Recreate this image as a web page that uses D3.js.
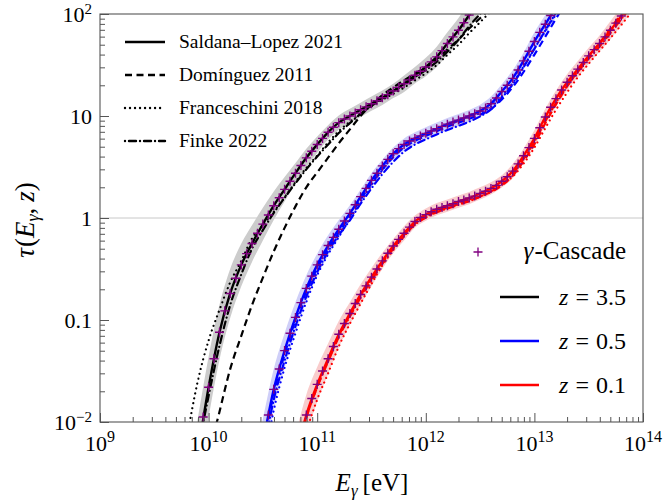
<!DOCTYPE html>
<html>
<head>
<meta charset="utf-8">
<script src="https://cdn.jsdelivr.net/npm/d3@7"></script>
<style>
  body { margin: 0; background: #fff; }
  text { font-family: "Liberation Serif", "Times New Roman", serif; fill: #000; }
</style>
</head>
<body>
<div id="chart"></div>
<script>
const width = 666,
    height = 504,
    margin = { left: 100, right: 23, top: 14, bottom: 82 };

// energy grids (eV) for the EBL model curves
const e35 = [6.31e9, 7.94e9, 1e10, 1.26e10, 1.58e10, 2e10, 2.51e10, 3.16e10, 3.98e10, 5.01e10, 6.31e10, 7.94e10, 1e11, 1.26e11, 1.58e11, 2e11, 2.51e11, 3.16e11, 3.98e11, 5.01e11, 6.31e11, 7.94e11, 1e12, 1.26e12, 1.58e12, 2e12, 2.51e12, 3.16e12, 3.98e12];
const e05 = [2.51e10, 3.16e10, 3.98e10, 5.01e10, 6.31e10, 7.94e10, 1e11, 1.26e11, 1.58e11, 2e11, 2.51e11, 3.16e11, 3.98e11, 5.01e11, 6.31e11, 7.94e11, 1e12, 1.26e12, 1.58e12, 2e12, 2.51e12, 3.16e12, 3.98e12, 5.01e12, 6.31e12, 7.94e12, 1e13, 1.26e13, 1.58e13, 2e13];
const e01 = [6.31e10, 7.94e10, 1e11, 1.26e11, 1.58e11, 2e11, 2.51e11, 3.16e11, 3.98e11, 5.01e11, 6.31e11, 7.94e11, 1e12, 1.26e12, 1.58e12, 2e12, 2.51e12, 3.16e12, 3.98e12, 5.01e12, 6.31e12, 7.94e12, 1e13, 1.26e13, 1.58e13, 2e13, 2.51e13, 3.16e13, 3.98e13, 5.01e13, 6.31e13, 7.94e13];

// optical depth, z = 3.5
const saldana35 = [0.0012, 0.005, 0.0219, 0.0759, 0.182, 0.347, 0.562, 0.871, 1.32, 1.91, 2.75, 3.89, 5.25, 6.92, 8.61, 10, 11.5, 13.2, 15.1, 17.6, 20.7, 25.1, 30.2, 38, 51.3, 69.2, 97.7, 141, 200];
const dominguez35 = [0.0002, 0.0008, 0.0045, 0.0126, 0.033, 0.07, 0.14, 0.26, 0.47, 0.8, 1.3, 2.0, 2.8, 3.9, 5.4, 7.4, 10, 12.9, 16, 19, 22.4, 26, 30, 36, 45, 56, 72, 91, 115];
const franceschini35 = [0.007, 0.025, 0.063, 0.126, 0.234, 0.38, 0.63, 0.85, 1.15, 1.6, 2.25, 3.1, 4.1, 5.5, 7.1, 8.8, 10.6, 12.5, 14.4, 16.5, 19, 22.4, 26.3, 31.6, 39.8, 50, 65, 83, 107];
const finke35 = [0.001, 0.005, 0.018, 0.056, 0.14, 0.28, 0.5, 0.76, 1.12, 1.58, 2.19, 3.0, 4.0, 5.25, 6.8, 8.5, 10.5, 12.6, 14.8, 17.4, 20.4, 24, 28.2, 34, 42.7, 56, 76, 100, 132];
const band35 = [0.35, 0.33, 0.3, 0.27, 0.24, 0.21, 0.18, 0.16, 0.14, 0.12, 0.1, 0.09, 0.08, 0.07, 0.07, 0.07, 0.07, 0.07, 0.07, 0.07, 0.08, 0.08, 0.09, 0.1, 0.11, 0.12, 0.13, 0.14, 0.15];

// optical depth, z = 0.5
const saldana05 = [0.002, 0.0063, 0.0209, 0.0501, 0.106, 0.204, 0.347, 0.537, 0.776, 1.11, 1.62, 2.34, 3.24, 4.27, 5.25, 6.03, 6.76, 7.5, 8.32, 9.12, 10, 11.2, 13.2, 17.4, 23.4, 34.7, 53.7, 79.4, 117, 178];
const dominguez05 = [0.0018, 0.0055, 0.019, 0.046, 0.1, 0.19, 0.32, 0.5, 0.72, 1.04, 1.52, 2.17, 3.0, 3.95, 4.9, 5.7, 6.4, 7.1, 7.85, 8.6, 9.4, 10.3, 11.7, 14.5, 19.2, 27, 40, 60, 90, 135];
const franceschini05 = [0.0011, 0.0035, 0.013, 0.034, 0.074, 0.15, 0.275, 0.44, 0.65, 0.99, 1.45, 2.11, 2.95, 4.07, 5.1, 5.9, 6.6, 7.3, 8.1, 8.9, 9.7, 10.7, 12.3, 15.6, 21, 30.5, 46, 68, 100, 150];
const finke05 = [0.0015, 0.0048, 0.0166, 0.04, 0.087, 0.17, 0.295, 0.47, 0.68, 0.95, 1.38, 1.95, 2.69, 3.55, 4.47, 5.25, 5.9, 6.6, 7.3, 8.0, 8.8, 9.9, 11.6, 15, 20.5, 30, 45.5, 69, 103, 155];
const band05 = [0.25, 0.23, 0.2, 0.17, 0.15, 0.13, 0.11, 0.1, 0.09, 0.08, 0.07, 0.07, 0.06, 0.06, 0.06, 0.06, 0.06, 0.06, 0.06, 0.06, 0.06, 0.06, 0.07, 0.07, 0.08, 0.08, 0.09, 0.09, 0.1, 0.1];

// optical depth, z = 0.1
const saldana01 = [0.0045, 0.0117, 0.0234, 0.0417, 0.0724, 0.116, 0.178, 0.263, 0.38, 0.531, 0.708, 0.923, 1.08, 1.22, 1.32, 1.45, 1.57, 1.74, 1.95, 2.29, 2.88, 4.07, 6.03, 9.77, 14.8, 21.4, 28.8, 38.9, 51.3, 69.2, 95.5, 132];
const dominguez01 = [0.004, 0.011, 0.022, 0.04, 0.07, 0.112, 0.172, 0.255, 0.37, 0.51, 0.68, 0.88, 1.03, 1.16, 1.26, 1.37, 1.48, 1.62, 1.8, 2.08, 2.6, 3.6, 5.3, 8.5, 13, 19.5, 27.5, 38, 52, 72, 100, 138];
const franceschini01 = [0.0025, 0.0078, 0.0166, 0.03, 0.055, 0.092, 0.145, 0.226, 0.343, 0.484, 0.66, 0.88, 1.05, 1.19, 1.3, 1.41, 1.51, 1.66, 1.85, 2.12, 2.55, 3.4, 4.9, 7.6, 11.5, 17, 24, 32.5, 43.5, 58, 78, 106];
const finke01 = [0.0042, 0.011, 0.022, 0.039, 0.068, 0.108, 0.166, 0.245, 0.355, 0.5, 0.67, 0.86, 1.01, 1.14, 1.24, 1.35, 1.46, 1.62, 1.82, 2.12, 2.7, 3.8, 5.6, 8.9, 13.5, 19.8, 27, 36.5, 48, 65, 89, 122];
const band01 = [0.22, 0.2, 0.17, 0.15, 0.13, 0.11, 0.1, 0.09, 0.08, 0.07, 0.07, 0.06, 0.06, 0.06, 0.06, 0.06, 0.06, 0.06, 0.06, 0.06, 0.07, 0.07, 0.08, 0.08, 0.08, 0.08, 0.08, 0.08, 0.08, 0.09, 0.09, 0.09];

// gamma-Cascade points
const casE35 = [8.91e9, 1e10, 1.12e10, 1.26e10, 1.41e10, 1.58e10, 1.78e10, 2e10, 2.24e10, 2.51e10, 2.82e10, 3.16e10, 3.55e10, 3.98e10, 4.47e10, 5.01e10, 5.62e10, 6.31e10, 7.08e10, 7.94e10, 8.91e10, 1e11, 1.12e11, 1.26e11, 1.41e11, 1.58e11, 1.78e11, 2e11, 2.24e11, 2.51e11, 2.82e11, 3.16e11, 3.55e11, 3.98e11, 4.47e11, 5.01e11, 5.62e11, 6.31e11, 7.08e11, 7.94e11, 8.91e11, 1e12, 1.12e12, 1.26e12, 1.41e12, 1.58e12, 1.78e12, 2e12, 2.24e12, 2.51e12];
const casT35 = [0.0112, 0.0219, 0.0417, 0.0759, 0.123, 0.182, 0.257, 0.347, 0.447, 0.562, 0.708, 0.871, 1.07, 1.32, 1.58, 1.91, 2.29, 2.75, 3.27, 3.89, 4.52, 5.25, 6.03, 6.92, 7.76, 8.61, 9.33, 10, 10.7, 11.5, 12.3, 13.2, 14.1, 15.1, 16.2, 17.6, 19.1, 20.7, 22.6, 25.1, 27.5, 30.2, 33.9, 38, 43.7, 51.3, 59.6, 69.2, 82.2, 97.7];
const casE05 = [3.55e10, 3.98e10, 4.47e10, 5.01e10, 5.62e10, 6.31e10, 7.08e10, 7.94e10, 8.91e10, 1e11, 1.12e11, 1.26e11, 1.41e11, 1.58e11, 1.78e11, 2e11, 2.24e11, 2.51e11, 2.82e11, 3.16e11, 3.55e11, 3.98e11, 4.47e11, 5.01e11, 5.62e11, 6.31e11, 7.08e11, 7.94e11, 8.91e11, 1e12, 1.12e12, 1.26e12, 1.41e12, 1.58e12, 1.78e12, 2e12, 2.24e12, 2.51e12, 2.82e12, 3.16e12, 3.55e12, 3.98e12, 4.47e12, 5.01e12, 5.62e12, 6.31e12, 7.08e12, 7.94e12, 8.91e12, 1e13, 1.12e13, 1.26e13, 1.41e13];
const casT05 = [0.0117, 0.0209, 0.0331, 0.0501, 0.0741, 0.106, 0.148, 0.204, 0.269, 0.347, 0.437, 0.537, 0.646, 0.776, 0.933, 1.11, 1.35, 1.62, 1.95, 2.34, 2.75, 3.24, 3.76, 4.27, 4.79, 5.25, 5.69, 6.03, 6.38, 6.76, 7.13, 7.5, 7.91, 8.32, 8.71, 9.12, 9.55, 10, 10.5, 11.2, 12, 13.2, 15, 17.4, 20, 23.4, 28.2, 34.7, 43.2, 53.7, 66.1, 79.4, 96.6];
const casE01 = [7.94e10, 8.91e10, 1e11, 1.12e11, 1.26e11, 1.41e11, 1.58e11, 1.78e11, 2e11, 2.24e11, 2.51e11, 2.82e11, 3.16e11, 3.55e11, 3.98e11, 4.47e11, 5.01e11, 5.62e11, 6.31e11, 7.08e11, 7.94e11, 8.91e11, 1e12, 1.12e12, 1.26e12, 1.41e12, 1.58e12, 1.78e12, 2e12, 2.24e12, 2.51e12, 2.82e12, 3.16e12, 3.55e12, 3.98e12, 4.47e12, 5.01e12, 5.62e12, 6.31e12, 7.08e12, 7.94e12, 8.91e12, 1e13, 1.12e13, 1.26e13, 1.41e13, 1.58e13, 1.78e13, 2e13, 2.24e13, 2.51e13, 2.82e13, 3.16e13, 3.55e13, 3.98e13, 4.47e13, 5.01e13, 5.62e13, 6.31e13];
const casT01 = [0.0117, 0.017, 0.0234, 0.0316, 0.0417, 0.055, 0.0724, 0.0923, 0.116, 0.145, 0.178, 0.216, 0.263, 0.316, 0.38, 0.452, 0.531, 0.617, 0.708, 0.813, 0.923, 1.01, 1.08, 1.15, 1.22, 1.27, 1.32, 1.38, 1.45, 1.5, 1.57, 1.64, 1.74, 1.83, 1.95, 2.09, 2.29, 2.54, 2.88, 3.39, 4.07, 4.9, 6.03, 7.67, 9.77, 12.2, 14.8, 18, 21.4, 24.8, 28.8, 33.5, 38.9, 44.7, 51.3, 59.6, 69.2, 81.3, 95.5];

// axis ticks
const xMajor = [1e9, 1e10, 1e11, 1e12, 1e13, 1e14];
const xExp = ["9", "10", "11", "12", "13", "14"];
const yMajor = [1e-2, 1e-1, 1, 10, 100];
const yBase = ["10", "0.1", "1", "10", "10"];
const yExp = ["\u22122", "", "", "", "2"];

const modelNames = ["Saldana\u2013Lopez 2021", "Dom\u00ednguez 2011", "Franceschini 2018", "Finke 2022"];
const dashes = [null, "7,4.5", "0.01,5", "0.01,4,7,4"];
const zLabels = ["3.5", "0.5", "0.1"];
const zColors = ["#000", "#0000ff", "#ff0000"];
const bandColors = ["#cccccc", "#cfcff8", "#f9cccc"];
const cascadeColor = "#800080";

const x = d3.scaleLog().domain([1e9, 1e14]).range([margin.left, width - margin.right]);
const y = d3.scaleLog().domain([1e-2, 1e2]).range([height - margin.bottom, margin.top]);

const svg = d3.select("#chart").append("svg")
    .attr("width", width)
    .attr("height", height);

svg.append("clipPath").attr("id", "plot")
    .append("rect")
    .attr("x", x.range()[0]).attr("y", y.range()[1])
    .attr("width", x.range()[1] - x.range()[0])
    .attr("height", y.range()[0] - y.range()[1]);

const plot = svg.append("g").attr("clip-path", "url(#plot)");

// tau = 1 reference line
plot.append("line")
    .attr("x1", x.range()[0]).attr("x2", x.range()[1])
    .attr("y1", y(1)).attr("y2", y(1))
    .style("stroke", "#c8c8c8").style("stroke-width", 1);

const groups = [
    { e: e35, models: [saldana35, dominguez35, franceschini35, finke35], band: band35, ce: casE35, ct: casT35 },
    { e: e05, models: [saldana05, dominguez05, franceschini05, finke05], band: band05, ce: casE05, ct: casT05 },
    { e: e01, models: [saldana01, dominguez01, franceschini01, finke01], band: band01, ce: casE01, ct: casT01 }
];

const line = d3.line()
    .x(d => x(d[0]))
    .y(d => y(d[1]))
    .curve(d3.curveMonotoneX);

const area = d3.area()
    .x(d => x(d[0]))
    .y0(d => y(d[1] / Math.pow(10, d[2])))
    .y1(d => y(d[1] * Math.pow(10, d[2])))
    .curve(d3.curveMonotoneX);

// uncertainty bands
groups.forEach((g, i) => {
    plot.append("path")
        .attr("d", area(d3.zip(g.e, g.models[0], g.band)))
        .style("fill", bandColors[i])
        .style("stroke", "none");
});

// model curves (dashed ones first, solid on top)
groups.forEach((g, i) => {
    [1, 2, 3, 0].forEach(m => {
        plot.append("path")
            .attr("d", line(d3.zip(g.e, g.models[m])))
            .style("fill", "none")
            .style("stroke", zColors[i])
            .style("stroke-width", m === 0 ? 2.4 : 2.2)
            .style("stroke-linecap", m === 2 || m === 3 ? "round" : "butt")
            .style("stroke-dasharray", dashes[m]);
    });
});

// gamma-Cascade markers
const plus = "M-4.5,0H4.5M0,-4.5V4.5";
groups.forEach(g => {
    plot.selectAll(null)
        .data(d3.zip(g.ce, g.ct))
        .enter()
        .append("path")
        .attr("d", plus)
        .attr("transform", d => `translate(${x(d[0])},${y(d[1])})`)
        .style("stroke", cascadeColor)
        .style("stroke-width", 1.4)
        .style("fill", "none");
});

// minor tick values
const xMinor = [];
xMajor.slice(0, -1).forEach(p => { for (let k = 2; k < 10; k++) xMinor.push(p * k); });
const yMinor = [];
yMajor.slice(0, -1).forEach(p => { for (let k = 2; k < 10; k++) yMinor.push(p * k); });

const axisColor = "#555";
const bottom = height - margin.bottom;

function styleAxis(g) {
    g.select(".domain").remove();
    g.selectAll(".tick line").style("stroke", axisColor).style("stroke-width", 1);
    g.selectAll(".tick text").remove();
}

svg.append("g").attr("transform", `translate(0,${bottom})`)
    .call(d3.axisBottom(x).tickValues(xMinor).tickSize(-5).tickFormat(""))
    .call(styleAxis);
svg.append("g").attr("transform", `translate(0,${bottom})`)
    .call(d3.axisBottom(x).tickValues(xMajor).tickSize(-9).tickFormat(""))
    .call(styleAxis);
svg.append("g").attr("transform", `translate(${margin.left},0)`)
    .call(d3.axisLeft(y).tickValues(yMinor).tickSize(-5).tickFormat(""))
    .call(styleAxis);
svg.append("g").attr("transform", `translate(${margin.left},0)`)
    .call(d3.axisLeft(y).tickValues(yMajor).tickSize(-9).tickFormat(""))
    .call(styleAxis);

// frame
svg.append("rect")
    .attr("x", x.range()[0]).attr("y", y.range()[1])
    .attr("width", x.range()[1] - x.range()[0])
    .attr("height", y.range()[0] - y.range()[1])
    .style("fill", "none")
    .style("stroke", axisColor)
    .style("stroke-width", 1.1);

// x tick labels
xMajor.forEach((v, i) => {
    const t = svg.append("text")
        .attr("x", x(v)).attr("y", bottom + 29)
        .attr("text-anchor", "middle")
        .style("font-size", "22px");
    t.append("tspan").text("10");
    t.append("tspan").attr("dy", -9).style("font-size", "16px").text(xExp[i]);
});

// y tick labels
yMajor.forEach((v, i) => {
    const t = svg.append("text")
        .attr("x", margin.left - 8).attr("y", y(v) + 8)
        .attr("text-anchor", "end")
        .style("font-size", "22px");
    t.append("tspan").text(yBase[i]);
    if (yExp[i]) t.append("tspan").attr("dy", -8).style("font-size", "15px").text(yExp[i]);
});

// axis titles
const xt = svg.append("text")
    .attr("x", 372).attr("y", 491)
    .attr("text-anchor", "middle")
    .style("font-size", "25px");
xt.append("tspan").style("font-style", "italic").text("E");
xt.append("tspan").attr("dy", 5).style("font-size", "17px").style("font-style", "italic").text("\u03b3");
xt.append("tspan").attr("dy", -5).attr("dx", 5).text("[eV]");

const yt = svg.append("text")
    .attr("transform", "translate(34,220) rotate(-90)")
    .attr("text-anchor", "middle")
    .style("font-size", "27px");
yt.append("tspan").style("font-style", "italic").text("\u03c4");
yt.append("tspan").attr("dx", 1).text("(");
yt.append("tspan").style("font-style", "italic").text("E");
yt.append("tspan").attr("dy", 5).style("font-size", "18px").style("font-style", "italic").text("\u03b3");
yt.append("tspan").attr("dy", -5).text(",");
yt.append("tspan").attr("dx", 6).style("font-style", "italic").text("z");
yt.append("tspan").text(")");

// model legend (top left)
const legY = [42, 75, 108, 141];
modelNames.forEach((name, i) => {
    svg.append("line")
        .attr("x1", 125).attr("x2", 165)
        .attr("y1", legY[i]).attr("y2", legY[i])
        .style("stroke", "#000")
        .style("stroke-width", 2.4)
        .style("stroke-linecap", i === 2 || i === 3 ? "round" : "butt")
        .style("stroke-dasharray", dashes[i]);
    svg.append("text")
        .attr("x", 179).attr("y", legY[i] + 6)
        .style("font-size", "19.5px")
        .text(name);
});

// redshift legend (bottom right)
svg.append("path")
    .attr("d", plus)
    .attr("transform", "translate(478,252)")
    .style("stroke", cascadeColor).style("stroke-width", 1.3);
const ct = svg.append("text")
    .attr("x", 626).attr("y", 259)
    .attr("text-anchor", "end")
    .style("font-size", "25px");
ct.append("tspan").style("font-style", "italic").text("\u03b3");
ct.append("tspan").attr("dx", 1).text("-Cascade");

const zY = [297, 341, 385];
zLabels.forEach((lab, i) => {
    svg.append("line")
        .attr("x1", 500).attr("x2", 539)
        .attr("y1", zY[i]).attr("y2", zY[i])
        .style("stroke", zColors[i]).style("stroke-width", 2.4);
    const t = svg.append("text")
        .attr("x", 626).attr("y", zY[i] + 8)
        .attr("text-anchor", "end")
        .style("font-size", "24px");
    t.append("tspan").style("font-style", "italic").text("z");
    t.append("tspan").attr("dx", 7).text("=");
    t.append("tspan").attr("dx", 7).text(lab);
});
</script>
</body>
</html>
